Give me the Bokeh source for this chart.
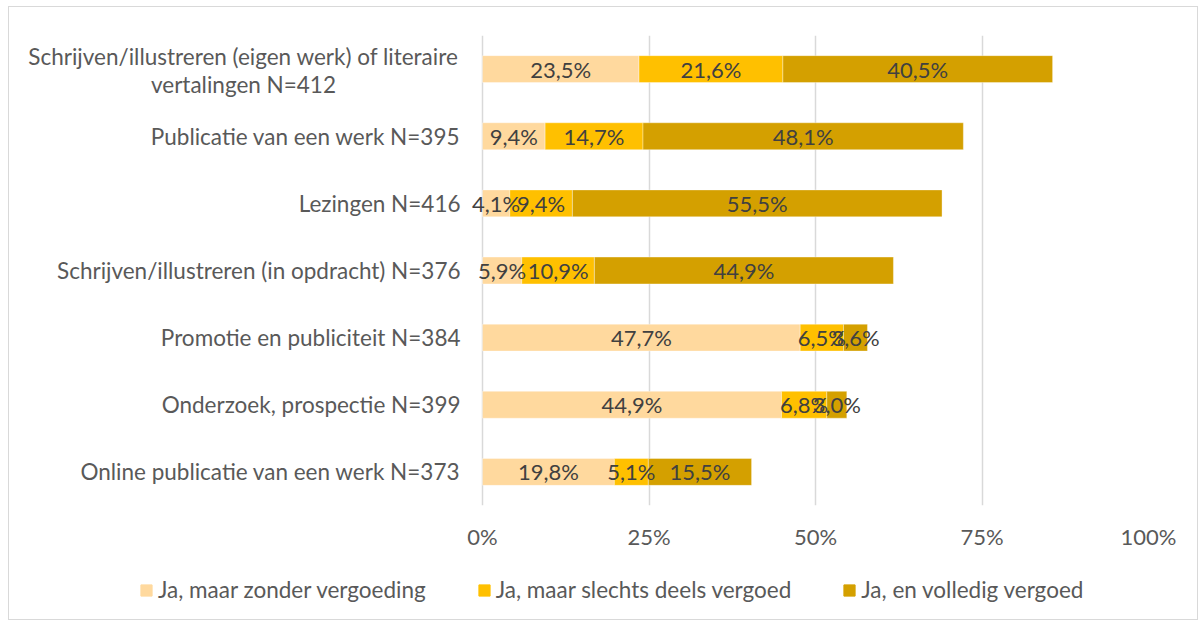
from bokeh.plotting import figure
from bokeh.layouts import column
from bokeh.models import (ColumnDataSource, FactorRange, Range1d, FixedTicker, Legend, LegendItem,
                          LabelSet)
from bokeh.core.properties import value
from bokeh.embed import file_html
from bokeh.resources import INLINE

categories = [
    "Schrijven/illustreren (eigen werk) of literaire\nvertalingen N=412",
    "Publicatie van een werk N=395",
    "Lezingen N=416",
    "Schrijven/illustreren (in opdracht) N=376",
    "Promotie en publiciteit N=384",
    "Onderzoek, prospectie N=399",
    "Online publicatie van een werk N=373",
]
zonder = [23.5, 9.4, 4.1, 5.9, 47.7, 44.9, 19.8]
deels = [21.6, 14.7, 9.4, 10.9, 6.5, 6.8, 5.1]
volledig = [40.5, 48.1, 55.5, 44.9, 3.6, 3.0, 15.5]
series_names = ["Ja, maar zonder vergoeding", "Ja, maar slechts deels vergoed", "Ja, en volledig vergoed"]
colors = ["#FFD99E", "#FFC000", "#D4A000"]
x_ticks = [0, 25, 50, 75, 100]
x_tick_labels = ["0%", "25%", "50%", "75%", "100%"]

FONT = "Lato"
FS = "22px"
FS_CAT = "22.5px"
TEXT_COLOR = "#595959"
LABEL_COLOR = "#404040"

# layout geometry (pixels)
W, H_MAIN, H_LEG = 1188, 560, 52
LABEL_AREA = 473          # space left of the 0% line (category labels live here)
BAR_AREA = 666            # width of 0..100%
X_START = -100 * LABEL_AREA / BAR_AREA

keys = ["zonder", "deels", "volledig"]
data = {"cat": categories, "zonder": zonder, "deels": deels, "volledig": volledig}
src = ColumnDataSource(data)

p = figure(
    width=W, height=H_MAIN,
    y_range=FactorRange(*list(reversed(categories)), range_padding=0),
    x_range=Range1d(X_START, 100),
    output_backend="svg", toolbar_location=None, y_axis_location=None,
    min_border_left=0, min_border_right=W - LABEL_AREA - BAR_AREA, min_border_top=28, min_border_bottom=62,
)
p.frame_align = False
p.outline_line_color = None

p.hbar_stack(keys, y="cat", height=0.4, color=colors, source=src,
             line_color="#FFFFFF", line_alpha=0.35, line_width=1)

# data labels
for i, k in enumerate(keys):
    starts = [sum(row[:i]) for row in zip(zonder, deels, volledig)]
    vals = data[k]
    lsrc = ColumnDataSource(dict(
        x=[s + v / 2 for s, v in zip(starts, vals)],
        y=categories,
        t=[f"{v:.1f}".replace(".", ",") + "%" for v in vals],
    ))
    p.add_layout(LabelSet(x="x", y="y", text="t", source=lsrc, text_align="center",
                          text_baseline="middle", text_font=value(FONT), text_font_size=FS,
                          text_color=LABEL_COLOR))

# category labels (right-aligned at the 0% line; the wrapped one is centred like the original)
csrc = ColumnDataSource(dict(x=[0] * (len(categories) - 1), y=categories[1:], t=categories[1:]))
p.add_layout(LabelSet(x="x", y="y", text="t", source=csrc, x_offset=-22, text_align="right",
                      text_baseline="middle", text_font=value(FONT), text_font_size=FS_CAT,
                      text_color=TEXT_COLOR))
wrapped_lines = categories[0].split("\n")
wsrc = ColumnDataSource(dict(x=[0] * len(wrapped_lines), y=[categories[0]] * len(wrapped_lines),
                             t=wrapped_lines, yoff=[13, -15]))
p.add_layout(LabelSet(x="x", y="y", text="t", source=wsrc, x_offset=-239, y_offset="yoff",
                      text_align="center", text_baseline="middle", text_font=value(FONT),
                      text_font_size=FS_CAT, text_color=TEXT_COLOR))

# x axis
p.xaxis.ticker = FixedTicker(ticks=x_ticks)
p.xaxis.major_label_overrides = {t: l for t, l in zip(x_ticks, x_tick_labels)}
p.xaxis.axis_line_color = None
p.xaxis.major_tick_line_color = None
p.xaxis.minor_tick_line_color = None
p.xaxis.major_tick_out = 0
p.xaxis.major_tick_in = 0
p.xaxis.major_label_text_font = FONT
p.xaxis.major_label_text_font_size = FS
p.xaxis.major_label_text_color = TEXT_COLOR
p.xaxis.major_label_standoff = 17

p.ygrid.grid_line_color = None
p.xgrid.grid_line_color = "#D9D9D9"
p.xgrid.grid_line_width = 1.5

# legend in its own strip below the chart
lp = figure(
    width=W, height=H_LEG, x_range=Range1d(0, 1), y_range=Range1d(0, 1),
    output_backend="svg", toolbar_location=None, x_axis_location=None, y_axis_location=None,
    min_border_left=0, min_border_right=0, min_border_top=0, min_border_bottom=0,
)
lp.frame_align = False
lp.outline_line_color = None
lp.grid.visible = False
key_src = ColumnDataSource(dict(y=[-1], right=[-1]))  # legend keys only, outside the view
leg_renderers = [lp.hbar(y="y", right="right", height=0.5, color=c, source=key_src) for c in colors]

legend = Legend(
    items=[LegendItem(label=n, renderers=[r]) for n, r in zip(series_names, leg_renderers)],
    orientation="horizontal", location=(130, 16),
    glyph_width=14, glyph_height=14, label_standoff=5, spacing=51,
    padding=0, margin=0, border_line_color=None, background_fill_alpha=0,
    label_text_font=FONT, label_text_font_size=FS_CAT, label_text_color=TEXT_COLOR,
)
lp.add_layout(legend, "center")

layout = column(p, lp, spacing=0,
                styles={"border": "1px solid #D9D9D9", "margin-left": "8px", "margin-top": "6px"})

open("out.html", "w").write(file_html(layout, INLINE))
